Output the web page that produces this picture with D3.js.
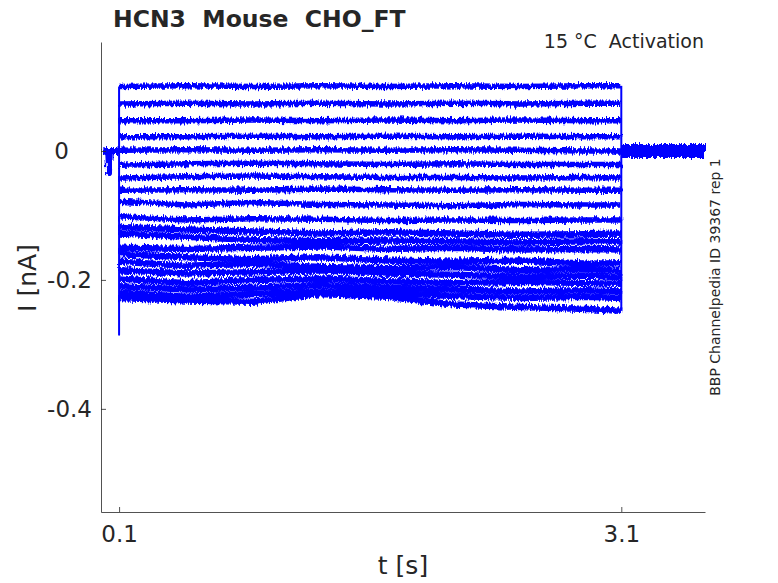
<!DOCTYPE html>
<html>
<head>
<meta charset="utf-8">
<script src="https://cdn.jsdelivr.net/npm/d3@7"></script>
<style>
  body { margin: 0; background: #fff; }
  text { font-family: "DejaVu Sans", sans-serif; fill: #262626; white-space: pre; }
</style>
</head>
<body>
<div id="chart"></div>
<script>
var svgWidth = 778;
var svgHeight = 583;

// sample times during the voltage step (s)
var stepTimes = [0.1, 0.5, 0.9, 1.3, 1.7, 2.1, 2.5, 2.9, 3.1];

// current of each sweep at those times (nA)
var sweeps = [
    [0.100, 0.101, 0.100, 0.101, 0.100, 0.101, 0.100, 0.101, 0.101],
    [0.073, 0.074, 0.073, 0.074, 0.073, 0.074, 0.073, 0.074, 0.074],
    [0.047, 0.047, 0.048, 0.047, 0.048, 0.047, 0.048, 0.047, 0.047],
    [0.022, 0.022, 0.023, 0.022, 0.023, 0.022, 0.023, 0.022, 0.022],
    [0.001, 0.002, 0.001, 0.002, 0.001, 0.002, 0.001, 0.000, 0.000],
    [-0.022, -0.020, -0.019, -0.020, -0.021, -0.020, -0.021, -0.021, -0.021],
    [-0.042, -0.040, -0.039, -0.040, -0.041, -0.041, -0.042, -0.041, -0.042],
    [-0.061, -0.060, -0.061, -0.059, -0.060, -0.061, -0.060, -0.061, -0.061],
    [-0.078, -0.084, -0.080, -0.083, -0.084, -0.085, -0.083, -0.084, -0.084],
    [-0.102, -0.107, -0.105, -0.106, -0.108, -0.107, -0.108, -0.107, -0.107],
    [-0.118, -0.122, -0.125, -0.128, -0.126, -0.128, -0.130, -0.129, -0.128],
    [-0.128, -0.133, -0.138, -0.140, -0.139, -0.140, -0.142, -0.140, -0.140],
    [-0.150, -0.152, -0.150, -0.148, -0.152, -0.150, -0.153, -0.152, -0.153],
    [-0.160, -0.165, -0.168, -0.165, -0.170, -0.172, -0.170, -0.175, -0.174],
    [-0.172, -0.178, -0.175, -0.180, -0.182, -0.180, -0.185, -0.183, -0.186],
    [-0.185, -0.190, -0.188, -0.185, -0.190, -0.192, -0.195, -0.193, -0.196],
    [-0.198, -0.205, -0.200, -0.198, -0.202, -0.205, -0.203, -0.205, -0.206],
    [-0.210, -0.215, -0.212, -0.208, -0.212, -0.215, -0.218, -0.216, -0.218],
    [-0.220, -0.226, -0.222, -0.218, -0.220, -0.225, -0.228, -0.226, -0.228],
    [-0.228, -0.232, -0.234, -0.222, -0.226, -0.238, -0.242, -0.245, -0.248]
];

// holding current before the step, with the small artefact near 0.04 s
var preTimes = [0, 0.035, 0.04, 0.045, 0.1];
var preValues = [0, 0, -0.033, 0, 0];

// holding current after the step
var postTimes = [3.1, 3.6];
var postValues = [0, 0];

// deepest capacitive transient at step onset
var onsetPeak = -0.285;

var xTicks = [0.1, 3.1];
var yTicks = [0, -0.2, -0.4];

var margin = { top: 42, right: 73, bottom: 71, left: 101 };
var width = svgWidth - margin.left - margin.right;
var height = svgHeight - margin.top - margin.bottom;

var svg = d3.select("#chart")
    .append("svg")
    .attr("width", svgWidth)
    .attr("height", svgHeight);

// recording noise look (rendering effect only)
var filter = svg.append("defs").append("filter")
    .attr("id", "noisy")
    .attr("x", "-5%").attr("y", "-10%")
    .attr("width", "110%").attr("height", "120%");
filter.append("feTurbulence")
    .attr("type", "fractalNoise")
    .attr("baseFrequency", "0.7 0.1")
    .attr("numOctaves", 2)
    .attr("seed", 3)
    .attr("result", "turb");
filter.append("feDisplacementMap")
    .attr("in", "SourceGraphic")
    .attr("in2", "turb")
    .attr("scale", 7)
    .attr("xChannelSelector", "R")
    .attr("yChannelSelector", "G");

var chartGroup = svg.append("g")
    .attr("transform", `translate(${margin.left}, ${margin.top})`);

var xScale = d3.scaleLinear()
    .domain([-0.008, 3.6])
    .range([0, width]);

var yScale = d3.scaleLinear()
    .domain([-0.56, 0.169])
    .range([height, 0]);

var line = d3.line()
    .x(d => xScale(d[0]))
    .y(d => yScale(d[1]));

// traces
var traceGroup = chartGroup.append("g")
    .attr("fill", "none")
    .attr("stroke", "#0000ff")
    .attr("stroke-linejoin", "round");

var noisyGroup = traceGroup.append("g")
    .attr("filter", "url(#noisy)");

var prePts = preTimes.map((t, i) => [t, preValues[i]]);
noisyGroup.append("path")
    .attr("d", line(prePts))
    .attr("stroke-width", 6);

sweeps.forEach(function(s) {
    var pts = stepTimes.map((t, i) => [t, s[i]]);
    noisyGroup.append("path")
        .attr("d", line(pts))
        .attr("stroke-width", s[1] < -0.11 ? 6.5 : 5.5);
});

var postPts = postTimes.map((t, i) => [t, postValues[i]]);
noisyGroup.append("path")
    .attr("d", line(postPts))
    .attr("stroke-width", 14);

// vertical onset edge including capacitive transient
traceGroup.append("path")
    .attr("d", line([[0.1, 0], [0.1, onsetPeak], [0.1, d3.max(sweeps, s => s[0])]]))
    .attr("stroke-width", 2);

// offset edge
traceGroup.append("path")
    .attr("d", line([[3.1, d3.min(sweeps, s => s[s.length - 1])], [3.1, d3.max(sweeps, s => s[s.length - 1])]]))
    .attr("stroke-width", 2);

// axes
var bottomAxis = d3.axisBottom(xScale)
    .tickValues(xTicks)
    .tickSizeInner(-5)
    .tickSizeOuter(0)
    .tickPadding(14)
    .tickFormat(d3.format(".1f"));

var leftAxis = d3.axisLeft(yScale)
    .tickValues(yTicks)
    .tickSizeInner(-5)
    .tickSizeOuter(0)
    .tickPadding(9)
    .tickFormat(d => d === 0 ? "0" : d3.format(".1f")(d).replace("−", "-"));

var xAxisG = chartGroup.append("g")
    .attr("transform", `translate(0, ${height})`)
    .call(bottomAxis);

var yAxisG = chartGroup.append("g")
    .call(leftAxis);

[xAxisG, yAxisG].forEach(function(g) {
    g.select(".domain").attr("stroke", "#262626").attr("stroke-width", 0.8);
    g.selectAll(".tick line").attr("stroke", "#262626").attr("stroke-width", 0.8);
    g.selectAll(".tick text")
        .attr("font-size", 23)
        .attr("font-family", "DejaVu Sans, sans-serif")
        .attr("fill", "#262626");
});
xAxisG.selectAll(".tick text").attr("dy", "0.71em");
// the zero label sits further left, as in the original
yAxisG.selectAll(".tick text").filter(d => d === 0).attr("x", -32);

// labels
svg.append("text")
    .attr("x", 403)
    .attr("y", 574)
    .attr("text-anchor", "middle")
    .attr("font-size", 25)
    .text("t [s]");

svg.append("text")
    .attr("transform", "translate(36, 278) rotate(-90)")
    .attr("text-anchor", "middle")
    .attr("font-size", 25)
    .text("I [nA]");

svg.append("text")
    .attr("x", 113)
    .attr("y", 27)
    .attr("font-size", 23.5)
    .attr("font-weight", "bold")
    .text("HCN3  Mouse  CHO_FT");

svg.append("text")
    .attr("x", 704)
    .attr("y", 48)
    .attr("text-anchor", "end")
    .attr("font-size", 19)
    .text("15 °C  Activation");

svg.append("text")
    .attr("transform", "translate(720, 277) rotate(-90)")
    .attr("text-anchor", "middle")
    .attr("font-size", 14)
    .text("BBP Channelpedia ID 39367 rep 1");
</script>
</body>
</html>
